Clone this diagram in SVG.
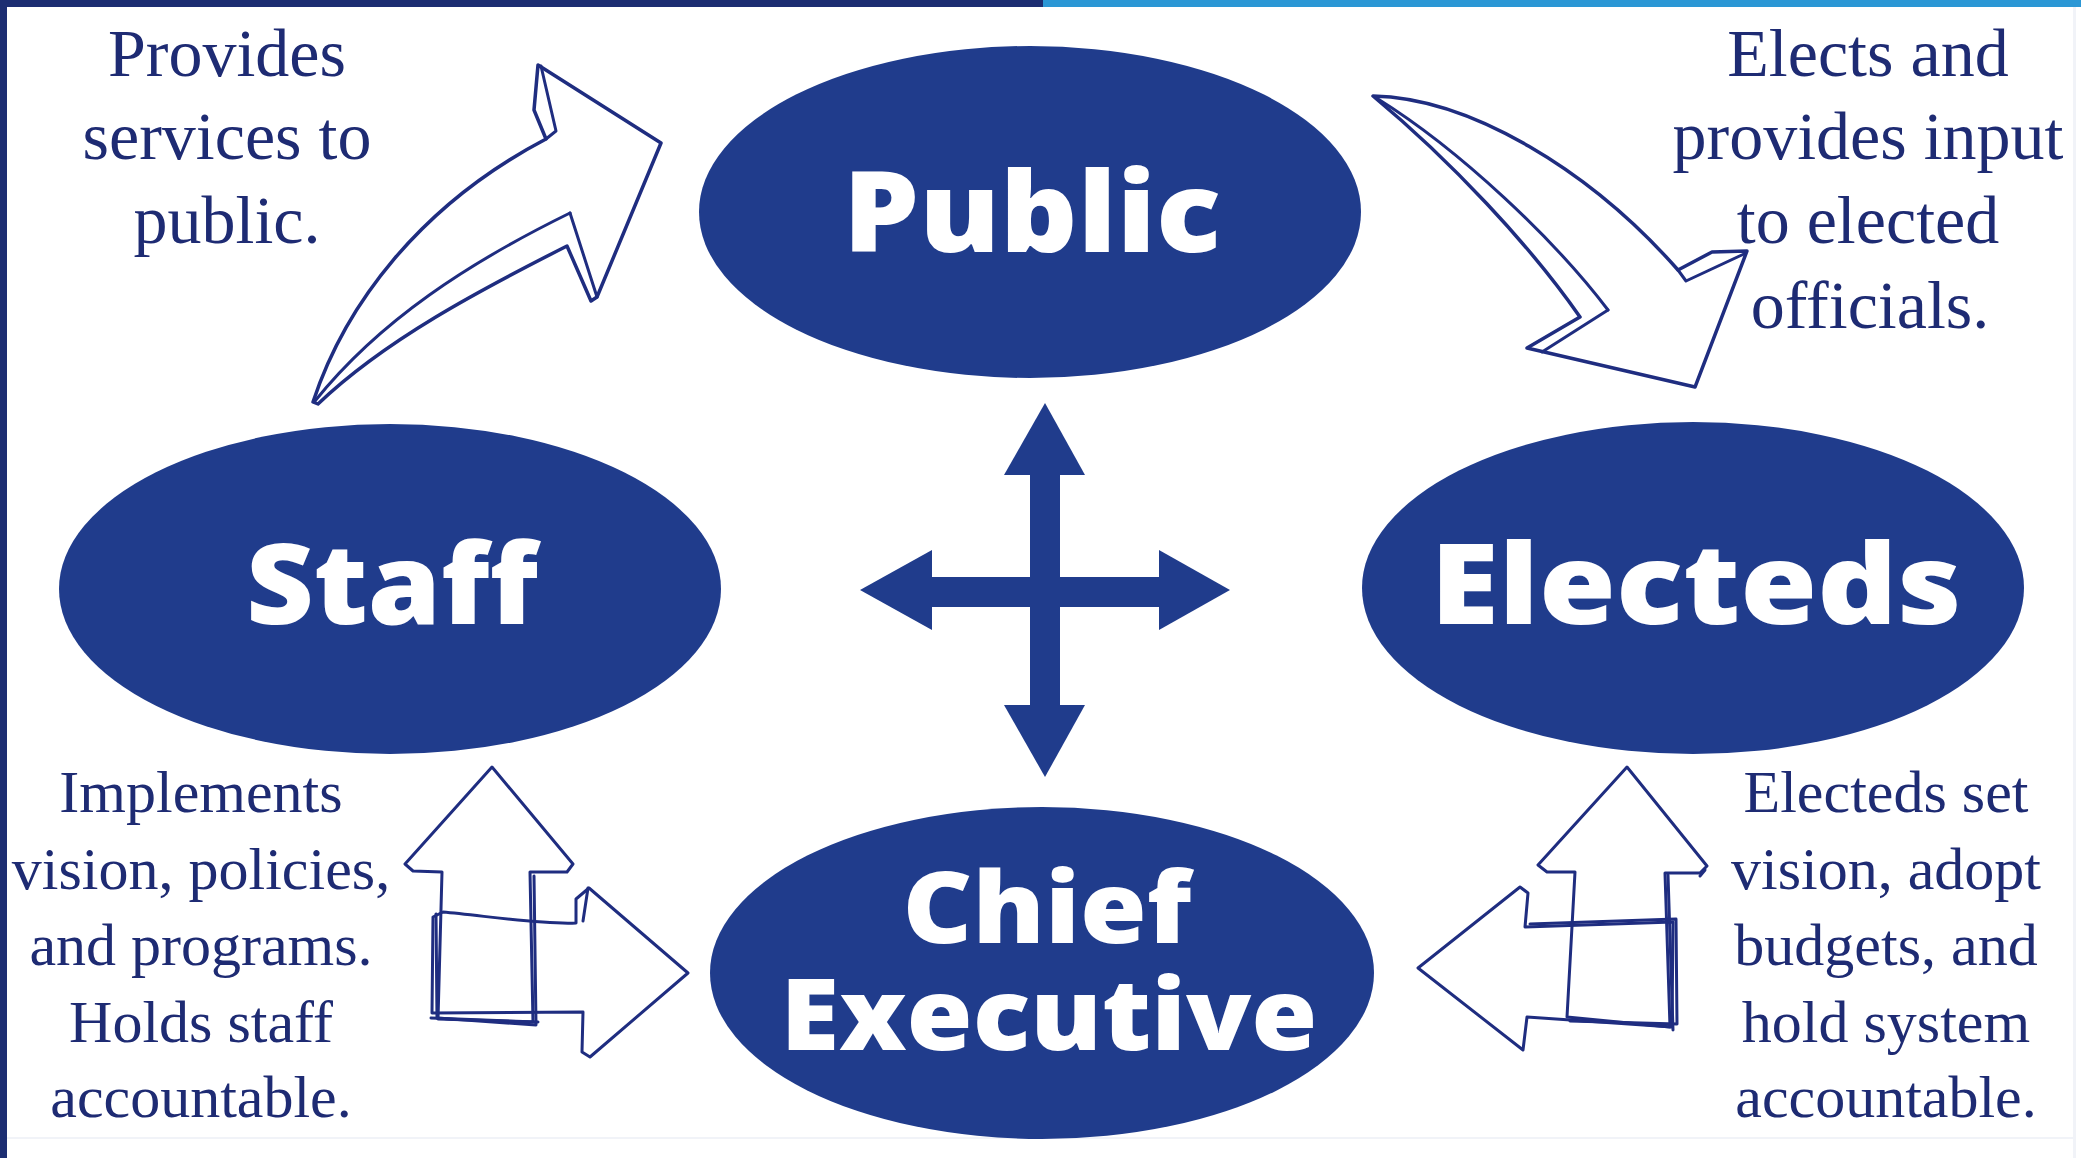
<svg xmlns="http://www.w3.org/2000/svg" width="2081" height="1158" viewBox="0 0 2081 1158">
  <style>
    .node { fill: #203c8c; }
    .big { font-family: "Open Sans", "Inter", "DejaVu Sans", sans-serif; font-weight: 800; font-size: 112px; fill: #ffffff; text-anchor: middle; }
    .big2 { font-size: 100px; }
    .note { font-family: "Liberation Serif", "DejaVu Serif", serif; fill: #1e2b73; text-anchor: middle; }
    .top { font-size: 68px; }
    .bot { font-size: 60px; }
    .sketch { fill: #ffffff; stroke: #1f2d80; stroke-width: 3.5; stroke-linejoin: round; stroke-linecap: round; }
    .sketch-line { fill: none; stroke: #1f2d80; stroke-width: 3; stroke-linejoin: round; stroke-linecap: round; }
    .cross { fill: #203c8c; }
  </style>

  <rect x="0" y="0" width="2081" height="1158" fill="#ffffff"/>
  <!-- frame -->
  <rect x="0" y="0" width="1043" height="7" fill="#1c2e72"/>
  <rect x="1043" y="0" width="1038" height="7" fill="#2b97d5"/>
  <rect x="0" y="0" width="7" height="1158" fill="#1c2e72"/>
  <rect x="2073" y="7" width="3" height="1151" fill="#f1f3f8"/>
  <rect x="7" y="1137" width="2066" height="2" fill="#f1f3f8"/>

  <g id="public">
    <ellipse class="node" cx="1030" cy="212" rx="331" ry="166"/>
    <text class="big" x="1032" y="252" textLength="378" lengthAdjust="spacingAndGlyphs">Public</text>
  </g>

  <g id="staff">
    <ellipse class="node" cx="390" cy="589" rx="331" ry="165"/>
    <text class="big" x="392" y="624" textLength="292" lengthAdjust="spacingAndGlyphs">Staff</text>
  </g>

  <g id="electeds">
    <ellipse class="node" cx="1693" cy="588" rx="331" ry="166"/>
    <text class="big" x="1696" y="624" textLength="531" lengthAdjust="spacingAndGlyphs">Electeds</text>
  </g>

  <g id="chief-executive">
    <ellipse class="node" cx="1042" cy="973" rx="332" ry="166"/>
    <text class="big big2" x="1047" y="943" textLength="289" lengthAdjust="spacingAndGlyphs">Chief</text>
    <text class="big big2" x="1049" y="1050" textLength="537" lengthAdjust="spacingAndGlyphs">Executive</text>
  </g>

  <g id="note-staff-public">
    <text class="note top" x="227" y="76">Provides</text>
    <text class="note top" x="227" y="159">services to</text>
    <text class="note top" x="227" y="243">public.</text>
  </g>

  <g id="note-public-electeds">
    <text class="note top" x="1868" y="76">Elects and</text>
    <text class="note top" x="1868" y="159">provides input</text>
    <text class="note top" x="1868" y="243">to elected</text>
    <text class="note top" x="1870" y="328">officials.</text>
  </g>

  <g id="note-chief-staff">
    <text class="note bot" x="201" y="812">Implements</text>
    <text class="note bot" x="201" y="889">vision, policies,</text>
    <text class="note bot" x="201" y="965">and programs.</text>
    <text class="note bot" x="201" y="1042">Holds staff</text>
    <text class="note bot" x="201" y="1117">accountable.</text>
  </g>

  <g id="note-electeds-chief">
    <text class="note bot" x="1886" y="812">Electeds set</text>
    <text class="note bot" x="1886" y="889">vision, adopt</text>
    <text class="note bot" x="1886" y="965">budgets, and</text>
    <text class="note bot" x="1886" y="1042">hold system</text>
    <text class="note bot" x="1886" y="1117">accountable.</text>
  </g>

  <g id="connectors">
    <!-- Staff -> Public curved arrow -->
    <g id="arrow-staff-public">
      <path class="sketch" d="M 313,402 C 345,305 420,205 546,139 L 534,110 L 538,65 L 661,143 L 597,297 L 591,301 L 567,246 C 480,290 385,340 318,404 Z"/>
      <path class="sketch-line" d="M 570,213 C 470,262 380,320 315,401"/>
      <path class="sketch-line" d="M 570,213 L 597,297"/>
      <path class="sketch-line" d="M 541,66 L 556,131 L 546,139"/>
    </g>
    <!-- Public -> Electeds curved arrow -->
    <g id="arrow-public-electeds">
      <path class="sketch" d="M 1373,96 C 1470,98 1590,170 1678,270 L 1712,252 L 1747,251 L 1695,387 L 1527,348 L 1580,317 C 1530,245 1450,160 1373,96 Z"/>
      <path class="sketch-line" d="M 1608,310 C 1555,240 1460,150 1378,99"/>
      <path class="sketch-line" d="M 1542,352 L 1608,310"/>
      <path class="sketch-line" d="M 1678,270 L 1686,281 L 1744,254"/>
    </g>
    <!-- Chief <-> Staff sketch arrows -->
    <g id="arrow-chief-staff">
      <path class="sketch-line" d="M 492,767 L 573,864 L 567,872 L 530,872 L 533,1022 L 438,1019 L 442,872 L 413,871 L 405,864 Z"/>
      <path class="sketch-line" d="M 688,973 L 589,888 L 576,899 L 576,923 C 540,925 480,915 443,912 L 433,917 L 432,1013 L 583,1012 L 582,1052 L 590,1057 Z"/>
      <path class="sketch-line" d="M 436,914 L 437,1018 L 536,1025 L 534,876"/>
      <path class="sketch-line" d="M 431,1018 L 538,1022"/>
      <path class="sketch-line" d="M 588,888 L 583,921"/>
    </g>
    <!-- Electeds <-> Chief sketch arrows -->
    <g id="arrow-electeds-chief">
      <path class="sketch-line" d="M 1627,767 L 1707,866 L 1700,873 L 1665,873 L 1670,1027 L 1567,1017 L 1575,872 L 1547,872 L 1538,865 Z"/>
      <path class="sketch-line" d="M 1418,968 L 1520,887 L 1528,893 L 1525,927 L 1673,922 L 1672,1027 L 1527,1017 L 1523,1050 Z"/>
      <path class="sketch-line" d="M 1530,924 L 1676,919 L 1677,1024 L 1570,1021"/>
      <path class="sketch-line" d="M 1668,875 L 1673,1030"/>
      <path class="sketch-line" d="M 1705,870 L 1700,876"/>
    </g>
    <!-- central four-way arrow -->
    <g id="cross-arrows">
      <rect class="cross" x="1030" y="470" width="30" height="240"/>
      <rect class="cross" x="928" y="577" width="236" height="30"/>
      <polygon class="cross" points="1045,403 1004,475 1085,475"/>
      <polygon class="cross" points="1045,777 1004,705 1085,705"/>
      <polygon class="cross" points="860,590 932,550 932,630"/>
      <polygon class="cross" points="1230,590 1159,550 1159,630"/>
    </g>
  </g>
</svg>
